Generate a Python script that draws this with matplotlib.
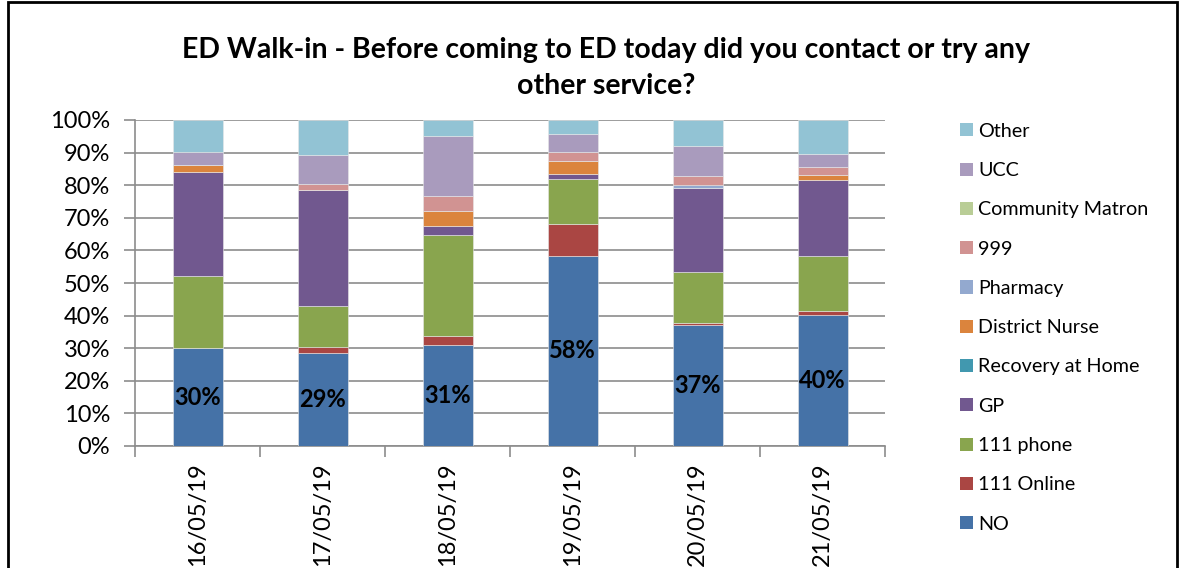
import matplotlib
matplotlib.use("Agg")
import matplotlib.pyplot as plt
from matplotlib.patches import Rectangle, Patch
import numpy as np

plt.rcParams['font.family'] = ['Lato', 'DejaVu Sans']

# data (percent of respondents)
dates = ['16/05/19', '17/05/19', '18/05/19', '19/05/19', '20/05/19', '21/05/19']
series_names = ['NO', '111 Online', '111 phone', 'GP', 'Recovery at Home',
                'District Nurse', 'Pharmacy', '999', 'Community Matron', 'UCC', 'Other']
no_contact = [30.0, 28.6, 30.9, 58.4, 37.0, 40.2]
online_111 = [0.0, 1.8, 2.9, 9.6, 0.8, 1.3]
phone_111 = [22.1, 12.5, 30.8, 13.9, 15.6, 16.9]
gp = [32.0, 35.6, 3.0, 1.4, 25.8, 23.2]
recovery_home = [0, 0, 0, 0, 0, 0]
district_nurse = [2.0, 0.0, 4.6, 4.1, 0.0, 1.5]
pharmacy = [0, 0, 0, 0, 0.9, 0]
nine99 = [0.0, 1.9, 4.6, 2.8, 2.6, 2.6]
community_matron = [0, 0, 0, 0, 0, 0]
ucc = [4.0, 8.9, 18.4, 5.6, 9.4, 3.9]
other = [9.9, 10.7, 4.8, 4.2, 7.9, 10.4]

series = [no_contact, online_111, phone_111, gp, recovery_home, district_nurse,
          pharmacy, nine99, community_matron, ucc, other]
colors = ['#4572A7', '#AA4643', '#89A54E', '#71588F', '#4198AF', '#DB843D',
          '#93A9CF', '#D19392', '#B9CD96', '#A99BBD', '#92C3D4']

fig = plt.figure(figsize=(11.86, 5.68), dpi=100)
ax = fig.add_axes([135 / 1186, 1 - 446 / 568, 750 / 1186, 326 / 568])

x = np.arange(len(dates))
bottom = np.zeros(len(dates))
for name, vals, c in zip(series_names, series, colors):
    vals = np.array(vals, dtype=float)
    ax.bar(x, vals, 0.4, bottom=bottom, color=c, edgecolor='#e8e8e8',
           linewidth=0.4, zorder=3, label=name)
    bottom += vals

# percentage labels on the NO segment only
for xi, v in zip(x, no_contact):
    ax.text(xi, v / 2, f'{round(v):.0f}%', ha='center', va='center',
            fontsize=17, fontweight='bold', color='black', zorder=4)

ax.set_xlim(-0.5, len(dates) - 0.5)
ax.set_ylim(0, 100)
ax.set_yticks(np.arange(0, 101, 10))
ax.set_yticklabels([f'{v}%' for v in range(0, 101, 10)], fontsize=17)
ax.yaxis.grid(True, color='#8c8c8c', linewidth=1.2, zorder=0)

ax.set_xticks(x)
ax.set_xticklabels(dates, rotation=90, fontsize=17)
ax.set_xticks(np.arange(-0.5, len(dates), 1), minor=True)
ax.tick_params(axis='x', which='major', length=0, pad=12)
ax.tick_params(axis='x', which='minor', length=8, color='#8c8c8c', width=1.2)
ax.tick_params(axis='y', length=8, color='#8c8c8c', width=1.2, pad=10)

for side in ['top', 'right']:
    ax.spines[side].set_visible(False)
for side in ['left', 'bottom']:
    ax.spines[side].set_color('#8c8c8c')
    ax.spines[side].set_linewidth(1.2)

handles = [Patch(facecolor=c, label=n) for n, c in zip(series_names, colors)]
fig.legend(handles[::-1], series_names[::-1], loc='upper left',
           bbox_to_anchor=(942 / 1186, 1 - 105 / 568), frameon=False,
           fontsize=14.2, handlelength=0.65, handleheight=0.65, handletextpad=0.3,
           labelspacing=1.13)

fig.text(606 / 1186, 1 - 68 / 568,
         'ED Walk-in - Before coming to ED today did you contact or try any\nother service?',
         ha='center', va='center', fontsize=20.5, fontweight='bold', linespacing=1.5)

# outer chart border
fig.patches.append(Rectangle((8 / 1186, -0.05), 1169 / 1186, 1.05 - 2 / 568,
                             transform=fig.transFigure, fill=False,
                             edgecolor='black', linewidth=2))

fig.savefig('out.png', dpi=100)
